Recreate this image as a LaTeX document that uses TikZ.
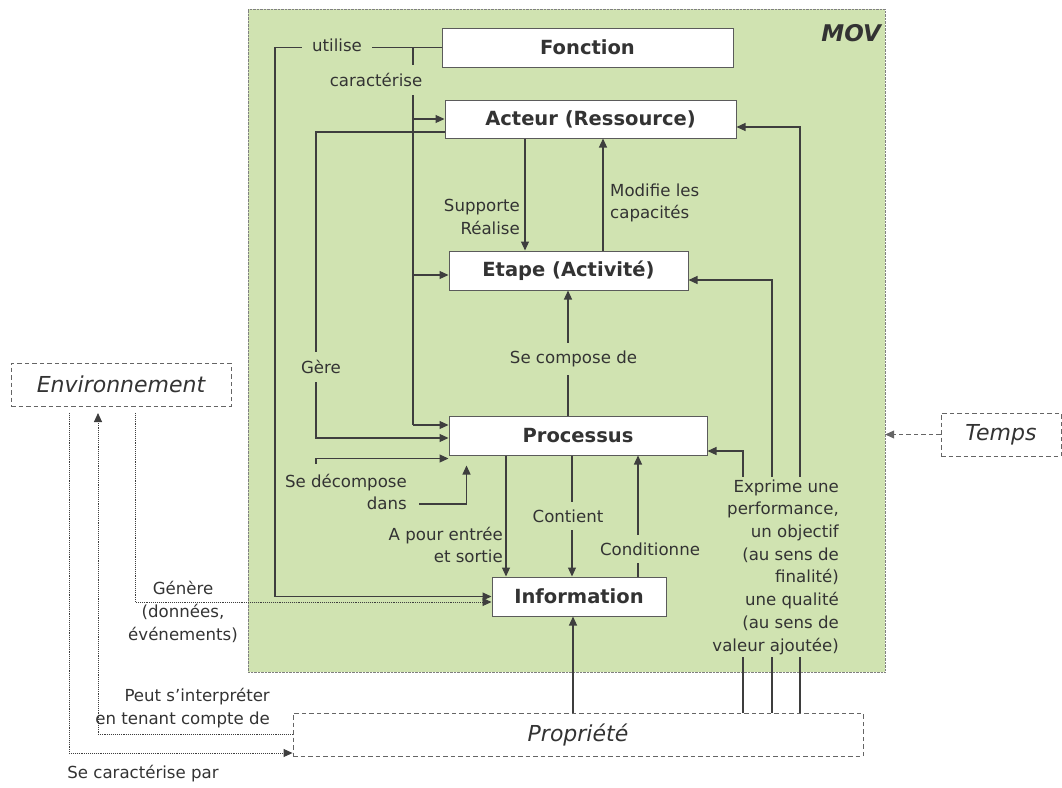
\documentclass[tikz,border=0pt]{standalone}
\usepackage{fontspec}
\setmainfont{DejaVu Sans}
\usetikzlibrary{arrows.meta, positioning}

\definecolor{movgreen}{RGB}{208,227,177}
\definecolor{inkc}{RGB}{62,62,62}
\definecolor{txtc}{RGB}{51,51,51}

\newcommand{\lblfont}{\fontsize{16.6}{22.7}\selectfont}
\newcommand{\boxfont}{\fontsize{19.5}{23}\selectfont\bfseries}
\newcommand{\extfont}{\fontsize{22}{26}\selectfont\itshape}

\begin{document}
\begin{tikzpicture}[x=1pt, y=-1pt, >={Triangle[length=9pt, width=8pt]},
    conn/.style = {draw=inkc, line width=1.2pt},
    envline/.style = {draw=inkc, line width=0.9pt, densely dotted},
    concept/.style = {draw=inkc!85, line width=1pt, fill=white, font=\boxfont, text=txtc, inner sep=0pt},
    outer/.style = {draw=inkc!80, line width=0.9pt, dash pattern=on 4.5pt off 3pt, font=\extfont, text=txtc, inner sep=0pt},
    lbl/.style = {font=\lblfont, text=txtc, inner sep=1pt},
    mask/.style = {lbl, fill=movgreen, inner xsep=10pt, inner ysep=8pt}]
  \useasboundingbox (0,0) rectangle (1062,787);

  % cadre MOV
  \node[draw=gray, densely dotted, fill=movgreen, minimum width=637pt, minimum height=663pt, inner sep=0pt] (mov) at (566.5,340.5) {};
  \node[font=\fontsize{23}{26}\selectfont\bfseries\itshape, text=txtc, anchor=base east, inner sep=0pt] (movtitle) at (881,41) {MOV};

  % concepts
  \node[concept, minimum width=291pt, minimum height=39pt] (fonc) at (587.5,47.5) {Fonction};
  \node[concept, minimum width=291pt, minimum height=38pt] (act) at (590.5,119) {Acteur (Ressource)};
  \node[concept, minimum width=239pt, minimum height=39pt] (etape) at (568.5,270.5) {Etape (Activité)};
  \node[concept, minimum width=258pt, minimum height=39pt] (proc) at (578,435.5) {Processus};
  \node[concept, minimum width=174pt, minimum height=39pt] (info) at (579,596.5) {Information};

  % hors MOV
  \node[outer, minimum width=220pt, minimum height=43pt] (env) at (121,384.5) {Environnement};
  \node[outer, minimum width=120pt, minimum height=43pt] (temps) at (1001,434.5) {Temps};
  \node[outer, minimum width=570pt, minimum height=43pt] (prop) at (578,734.5) {Propriété};

  % utilise
  \draw[conn, ->] (fonc.west) -| (275,300) |- (info.west);
  \node[mask] (lutil) at (337,45) {utilise};

  % caracterise
  \draw[conn] (fonc.west -| 413,0) -- (413,425);
  \draw[conn, ->] (act.west -| 413,0) -- (act.west);
  \draw[conn, ->] (413,275) -- ([yshift=-4.5pt]etape.west);
  \draw[conn, ->] (413,425) -- ([yshift=10.5pt]proc.west);
  \node[mask] (lcar) at (376,80) {caractérise};

  % gere
  \draw[conn, ->] ([yshift=-13pt]act.west) -| (316,300) |- ([yshift=-2.5pt]proc.west);
  \node[mask] (lgere) at (321,367) {Gère};

  % se decompose dans
  \draw[conn, ->] (316,464) |- ([yshift=-3pt]proc.south west);
  \draw[conn, ->] (419,504) -| ([xshift=18pt, yshift=-10pt]proc.south west);
  \node[lbl, align=right, anchor=east] (ldec) at (408,492) {Se décompose\\dans};

  % acteur / etape
  \draw[conn, ->] (act.south -| 525,0) -- (etape.north -| 525,0);
  \node[lbl, align=right, anchor=east] (lsup) at (521,217) {Supporte\\Réalise};
  \draw[conn, ->] (etape.north -| 603,0) -- (act.south -| 603,0);
  \node[lbl, align=left, anchor=west] (lmod) at (609,203) {Modifie les\\capacités};

  % processus / etape
  \draw[conn, ->] (proc.north -| 568,0) -- (etape.south -| 568,0);
  \node[mask] (lcomp) at (573.5,359) {Se compose de};

  % processus / information
  \draw[conn, ->] (proc.south -| 506,0) -- (info.north -| 506,0);
  \node[lbl, align=right, anchor=east] (lent) at (504,545) {A pour entrée\\et sortie};
  \draw[conn, ->] (proc.south -| 572,0) -- (info.north -| 572,0);
  \node[mask] (lcont) at (568,516) {Contient};
  \draw[conn, ->] (info.north -| 638,0) -- (proc.south -| 638,0);
  \node[mask] (lcond) at (650,549) {Conditionne};

  % propriete
  \draw[conn, ->] (prop.north -| 573,0) -- (info.south -| 573,0);
  \draw[conn, ->] (prop.north -| 743,0) |- ([yshift=-15.5pt]proc.east);
  \draw[conn, ->] (prop.north -| 772,0) |- ([yshift=-9.5pt]etape.east);
  \draw[conn, ->] (prop.north -| 800,0) |- ([yshift=-8pt]act.east);
  \node[lbl, fill=movgreen, align=right, anchor=east, inner sep=3pt] (lexp) at (842,567)
    {Exprime une\\performance,\hspace*{0.3em}\\un objectif\\(au sens de\\finalité)\\une qualité\\(au sens de\\valeur ajoutée)};

  % environnement
  \draw[envline, ->] (69,413) |- ([yshift=-18.5pt]prop.west);
  \node[lbl] (lcarp) at (143,774) {Se caractérise par};
  \draw[envline, ->] (prop.west) -| (98,413);
  \node[lbl, align=right, anchor=east] (linterp) at (271,708) {Peut s’interpréter\\en tenant compte de};
  \draw[envline, ->] (135,413) |- ([yshift=-5.5pt]info.west);
  \node[lbl, align=center] (lgen) at (183,612) {Génère\\(données,\\événements)};

  % temps
  \draw[draw=inkc!80, line width=0.9pt, dash pattern=on 4.5pt off 3pt, ->] (temps.west) -- (temps.west -| mov.east);
\end{tikzpicture}
\end{document}
